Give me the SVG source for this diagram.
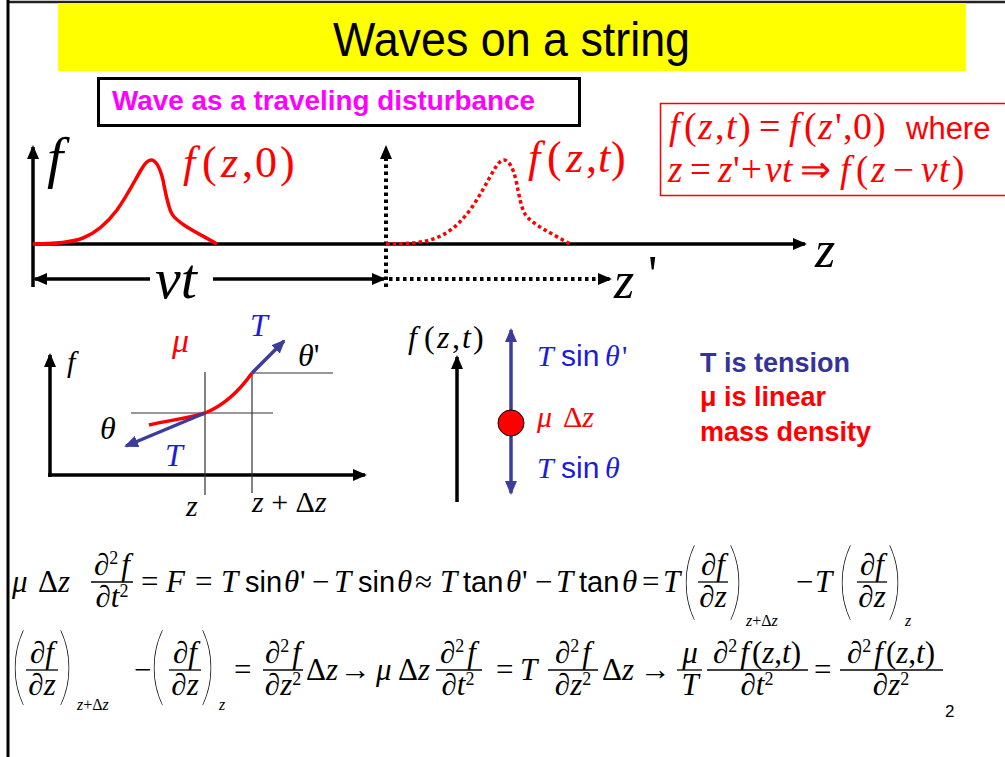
<svg xmlns="http://www.w3.org/2000/svg" width="1005" height="757" viewBox="0 0 1005 757">
<style>
text { font-family: "Liberation Serif", "Times New Roman", serif; }
.i { font-style: italic; }
.s { font-family: "Liberation Sans", Arial, sans-serif; font-style: normal; }
.b { font-weight: bold; }
.eq { font-size: 31px; fill: #000; }
.sup { font-size: 18px; font-style: normal; }
.sub { font-size: 16px; }
.bar { stroke: #000; stroke-width: 1.3; }
.bp { font-family: Lato, Inter, "Open Sans", sans-serif; font-weight: 100; font-size: 86px; }
.ax { stroke: #000; stroke-width: 3.5; fill: none; }
.thin { stroke: #333; stroke-width: 1.2; fill: none; }
.dot { stroke: #000; stroke-width: 4; stroke-dasharray: 3.5 3.5; fill: none; }
.barrow { stroke: #3c3c9c; stroke-width: 3.5; fill: none; }
.red { fill: #ff0000; }
.blue { fill: #1c1cdc; }
</style>
<defs>
<marker id="ak" viewBox="0 0 14 12" refX="12" refY="6" markerWidth="14" markerHeight="12" orient="auto-start-reverse" markerUnits="userSpaceOnUse"><path d="M0,0 L14,6 L0,12 z" fill="#000"/></marker>
<marker id="ab" viewBox="0 0 14 12" refX="12" refY="6" markerWidth="14" markerHeight="12" orient="auto-start-reverse" markerUnits="userSpaceOnUse"><path d="M0,0 L14,6 L0,12 z" fill="#3c3c9c"/></marker>
<path id="pulse" d="M33,244 C55,244 70,243 83,238 C98,232 108,222 117,210 C127,196 135,180 141,170 C145,163 148,160 151,160 C156,160 160,168 163,180 C166,195 168,207 172,214 C178,224 200,234 217,244"/>
</defs>
<rect width="1005" height="757" fill="#fff"/>
<line x1="7" y1="2" x2="1005" y2="2" stroke="#222" stroke-width="2.5"/>
<line x1="8" y1="0" x2="8" y2="757" stroke="#000" stroke-width="3"/>

<g id="title">
<rect x="58" y="3" width="908" height="68" fill="#ffff00"/>
<text class="s" x="333" y="56" font-size="48" textLength="357" lengthAdjust="spacingAndGlyphs">Waves on a string</text>
</g>

<g id="subtitle">
<rect x="98.5" y="78.5" width="481" height="47" fill="#fff" stroke="#000" stroke-width="3"/>
<text class="s b" x="112" y="110" font-size="27" fill="#ff00ff" textLength="423" lengthAdjust="spacingAndGlyphs">Wave as a traveling disturbance</text>
</g>

<g id="relation">
<rect x="660.5" y="103.5" width="350" height="92" fill="none" stroke="#ff0000" stroke-width="1.5"/>
<text y="139" font-size="38" class="red"><tspan class="i" x="669">f</tspan><tspan x="684">(</tspan><tspan class="i" x="698">z</tspan><tspan x="715">,</tspan><tspan class="i" x="726">t</tspan><tspan x="738">)</tspan><tspan x="759">=</tspan><tspan class="i" x="789">f</tspan><tspan x="804">(</tspan><tspan class="i" x="818">z</tspan><tspan x="835">'</tspan><tspan x="843">,</tspan><tspan x="853">0</tspan><tspan x="873">)</tspan><tspan class="s" x="906" font-size="31">where</tspan></text>
<text y="182" font-size="37" class="red"><tspan class="i" x="668">z</tspan><tspan x="690">=</tspan><tspan class="i" x="718">z</tspan><tspan x="733">'</tspan><tspan x="741">+</tspan><tspan class="i" x="765">v</tspan><tspan class="i" x="782">t</tspan><tspan x="800">⇒</tspan><tspan class="i" x="840">f</tspan><tspan x="856">(</tspan><tspan class="i" x="871">z</tspan><tspan x="893">−</tspan><tspan class="i" x="921">v</tspan><tspan class="i" x="939">t</tspan><tspan x="952">)</tspan></text>
</g>

<g id="wave-plot">
<path class="ax" d="M33,287 V147" marker-end="url(#ak)"/>
<path class="ax" d="M33,244 H805" marker-end="url(#ak)"/>
<path class="dot" d="M386,287 V147" marker-end="url(#ak)"/>
<path class="ax" d="M150,279 H35" marker-end="url(#ak)"/>
<path class="ax" d="M213,279 H384" marker-end="url(#ak)"/>
<path class="dot" d="M389,279 H610" stroke-width="3.5" marker-end="url(#ak)"/>
<use href="#pulse" fill="none" stroke="#ff0000" stroke-width="3.5"/>
<use href="#pulse" transform="translate(353,0)" fill="none" stroke="#ff0000" stroke-width="3.5" stroke-dasharray="3.5 3"/>
<text class="i" x="47" y="177" font-size="58">f</text>
<text y="177" font-size="44" class="red"><tspan class="i" x="183">f</tspan><tspan x="202">(</tspan><tspan class="i" x="221">z</tspan><tspan x="242">,</tspan><tspan x="255">0</tspan><tspan x="280">)</tspan></text>
<text y="172" font-size="44" class="red"><tspan class="i" x="528">f</tspan><tspan x="547">(</tspan><tspan class="i" x="566">z</tspan><tspan x="586">,</tspan><tspan class="i" x="598">t</tspan><tspan x="611">)</tspan></text>
<text class="i" x="815" y="267" font-size="52">z</text>
<text class="i" x="155" y="298" font-size="58">vt</text>
<text y="298" font-size="52"><tspan class="i" x="614">z</tspan><tspan x="648" dy="-6">'</tspan></text>
</g>

<g id="element-plot">
<path class="ax" d="M50,477 V355" marker-end="url(#ak)"/>
<path class="ax" d="M48,475 H365" marker-end="url(#ak)"/>
<path class="thin" d="M205,372 V495 M252,373 V493 M131,413 H273 M252,373 H333"/>
<path d="M149,425 C170,420 190,418 205,413 C225,405 240,390 252,373" fill="none" stroke="#ff0000" stroke-width="3.5"/>
<path class="barrow" d="M252,373 L284,341" marker-end="url(#ab)"/>
<path class="barrow" d="M205,413 L126,446" marker-end="url(#ab)"/>
<text class="i" x="67" y="372" font-size="30">f</text>
<text class="i red" x="172" y="352" font-size="34">μ</text>
<text class="i blue" x="250" y="336" font-size="32">T</text>
<text x="298" y="366" font-size="32"><tspan class="i">θ</tspan>'</text>
<text class="i" x="100" y="439" font-size="32">θ</text>
<text class="i blue" x="165" y="466" font-size="32">T</text>
<text class="i" x="186" y="516" font-size="30">z</text>
<text x="252" y="512" font-size="30"><tspan class="i">z</tspan> + Δ<tspan class="i">z</tspan></text>
</g>

<g id="forces">
<text y="348" font-size="32"><tspan class="i" x="408">f</tspan><tspan x="424">(</tspan><tspan class="i" x="437">z</tspan><tspan x="452">,</tspan><tspan class="i" x="462">t</tspan><tspan x="473">)</tspan></text>
<path class="ax" d="M457,502 V357" marker-end="url(#ak)"/>
<path class="barrow" d="M511,410 V330" marker-end="url(#ab)"/>
<path class="barrow" d="M511,436 V493" marker-end="url(#ab)"/>
<circle cx="511" cy="423" r="13" fill="#ff0000" stroke="#000" stroke-width="1"/>
<text y="366" font-size="30" class="blue"><tspan class="i" x="537">T</tspan><tspan class="s" x="561">sin</tspan><tspan class="i" x="605">θ</tspan><tspan x="622">'</tspan></text>
<text y="427" font-size="30" class="red"><tspan class="i" x="537">μ</tspan><tspan x="563">Δ</tspan><tspan class="i">z</tspan></text>
<text y="478" font-size="30" class="blue"><tspan class="i" x="537">T</tspan><tspan class="s" x="561">sin</tspan><tspan class="i" x="605">θ</tspan></text>
</g>

<g id="legend">
<text class="s b" x="700" y="372" font-size="27" fill="#333399">T is tension</text>
<text class="s b" x="700" y="406" font-size="27" fill="#ff0000">μ is linear</text>
<text class="s b" x="700" y="441" font-size="27" fill="#ff0000">mass density</text>
</g>

<g id="equation1" class="eq">
<text class="i" x="12" y="592">μ</text>
<text x="38" y="592">Δ<tspan class="i">z</tspan></text>
<text x="112" y="575" text-anchor="middle">∂<tspan class="sup" dy="-11">2</tspan><tspan class="i" dx="3" dy="11">f</tspan></text>
<line class="bar" x1="91" y1="582" x2="133" y2="582"/>
<text x="112" y="607" text-anchor="middle">∂<tspan class="i">t</tspan><tspan class="sup" dy="-10">2</tspan></text>
<text y="592"><tspan x="141">=</tspan><tspan class="i" x="166">F</tspan><tspan x="195">=</tspan><tspan class="i" x="221">T</tspan><tspan class="s" x="245" font-size="29">sin</tspan><tspan class="i" x="284">θ</tspan><tspan x="300">'</tspan><tspan x="312">−</tspan><tspan class="i" x="334">T</tspan><tspan class="s" x="358" font-size="29">sin</tspan><tspan class="i" x="397">θ</tspan><tspan x="415">≈</tspan><tspan class="i" x="440">T</tspan><tspan class="s" x="463" font-size="29">tan</tspan><tspan class="i" x="506">θ</tspan><tspan x="522">'</tspan><tspan x="535">−</tspan><tspan class="i" x="556">T</tspan><tspan class="s" x="579" font-size="29">tan</tspan><tspan class="i" x="622">θ</tspan><tspan x="642">=</tspan><tspan class="i" x="663">T</tspan></text>
<text class="bp" transform="translate(682,610) scale(0.7,1)">(</text>
<text x="713" y="575" text-anchor="middle">∂<tspan class="i">f</tspan></text>
<line class="bar" x1="698" y1="582" x2="728" y2="582"/>
<text x="713" y="607" text-anchor="middle">∂<tspan class="i">z</tspan></text>
<text class="bp" transform="translate(728,610) scale(0.7,1)">)</text>
<text class="sub" x="746" y="626"><tspan class="i">z</tspan>+Δ<tspan class="i">z</tspan></text>
<text y="592"><tspan x="796">−</tspan><tspan class="i" x="815">T</tspan></text>
<text class="bp" transform="translate(838,610) scale(0.7,1)">(</text>
<text x="872" y="575" text-anchor="middle">∂<tspan class="i">f</tspan></text>
<line class="bar" x1="857" y1="582" x2="887" y2="582"/>
<text x="872" y="607" text-anchor="middle">∂<tspan class="i">z</tspan></text>
<text class="bp" transform="translate(887,610) scale(0.7,1)">)</text>
<text class="sub i" x="905" y="626">z</text>
</g>

<g id="equation2" class="eq">
<text class="bp" transform="translate(11,695) scale(0.7,1)">(</text>
<text x="42" y="663" text-anchor="middle">∂<tspan class="i">f</tspan></text>
<line class="bar" x1="26" y1="670" x2="58" y2="670"/>
<text x="42" y="695" text-anchor="middle">∂<tspan class="i">z</tspan></text>
<text class="bp" transform="translate(58,695) scale(0.7,1)">)</text>
<text class="sub" x="77" y="710"><tspan class="i">z</tspan>+Δ<tspan class="i">z</tspan></text>
<text x="134" y="680">−</text>
<text class="bp" transform="translate(150,695) scale(0.7,1)">(</text>
<text x="185" y="663" text-anchor="middle">∂<tspan class="i">f</tspan></text>
<line class="bar" x1="169" y1="670" x2="201" y2="670"/>
<text x="185" y="695" text-anchor="middle">∂<tspan class="i">z</tspan></text>
<text class="bp" transform="translate(200,695) scale(0.7,1)">)</text>
<text class="sub i" x="219" y="710">z</text>
<text x="234" y="680">=</text>
<text x="283" y="663" text-anchor="middle">∂<tspan class="sup" dy="-11">2</tspan><tspan class="i" dx="3" dy="11">f</tspan></text>
<line class="bar" x1="263" y1="670" x2="303" y2="670"/>
<text x="283" y="695" text-anchor="middle">∂<tspan class="i">z</tspan><tspan class="sup" dy="-10">2</tspan></text>
<text y="680"><tspan x="306">Δ</tspan><tspan class="i">z</tspan><tspan x="340">→</tspan><tspan class="i" x="376">μ</tspan><tspan x="398">Δ</tspan><tspan class="i">z</tspan></text>
<text x="458" y="663" text-anchor="middle">∂<tspan class="sup" dy="-11">2</tspan><tspan class="i" dx="3" dy="11">f</tspan></text>
<line class="bar" x1="436" y1="670" x2="482" y2="670"/>
<text x="458" y="695" text-anchor="middle">∂<tspan class="i">t</tspan><tspan class="sup" dy="-10">2</tspan></text>
<text y="680"><tspan x="496">=</tspan><tspan class="i" x="520">T</tspan></text>
<text x="573" y="663" text-anchor="middle">∂<tspan class="sup" dy="-11">2</tspan><tspan class="i" dx="3" dy="11">f</tspan></text>
<line class="bar" x1="548" y1="670" x2="598" y2="670"/>
<text x="573" y="695" text-anchor="middle">∂<tspan class="i">z</tspan><tspan class="sup" dy="-10">2</tspan></text>
<text y="680"><tspan x="602">Δ</tspan><tspan class="i">z</tspan><tspan x="640">→</tspan></text>
<text class="i" x="690" y="663" text-anchor="middle">μ</text>
<line class="bar" x1="677" y1="670" x2="702" y2="670"/>
<text class="i" x="690" y="695" text-anchor="middle">T</text>
<text x="757" y="663" text-anchor="middle">∂<tspan class="sup" dy="-11">2</tspan><tspan class="i" dx="3" dy="11">f</tspan><tspan dx="3">(</tspan><tspan class="i">z</tspan>,<tspan class="i">t</tspan>)</text>
<line class="bar" x1="707" y1="670" x2="808" y2="670"/>
<text x="757" y="695" text-anchor="middle">∂<tspan class="i">t</tspan><tspan class="sup" dy="-10">2</tspan></text>
<text x="814" y="680">=</text>
<text x="891" y="663" text-anchor="middle">∂<tspan class="sup" dy="-11">2</tspan><tspan class="i" dx="3" dy="11">f</tspan><tspan dx="3">(</tspan><tspan class="i">z</tspan>,<tspan class="i">t</tspan>)</text>
<line class="bar" x1="840" y1="670" x2="943" y2="670"/>
<text x="891" y="695" text-anchor="middle">∂<tspan class="i">z</tspan><tspan class="sup" dy="-10">2</tspan></text>
</g>

<text class="s" x="945" y="717" font-size="17">2</text>
</svg>
